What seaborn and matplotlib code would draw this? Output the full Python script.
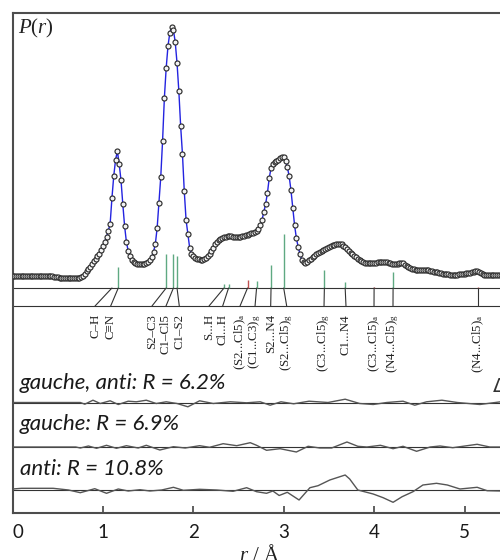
import numpy as np
import pandas as pd
import matplotlib
matplotlib.use("Agg")
import matplotlib.pyplot as plt
import seaborn as sns

# ---------------- data ----------------
# experimental radial distribution P(r) (arbitrary units), sampled every 0.02 Å from 0 to 5.40 Å
r_grid = np.round(np.linspace(0.0, 5.40, 271), 2)
P_r = [
    12, 12, 12, 12, 12, 12, 12, 12, 12, 12,                      # 0.00-0.18
    12, 12, 12, 12, 12, 12, 12, 12, 12, 12,                      # 0.20-0.38
    12, 12, 11.8, 11.5, 11, 10.6, 10.3, 10.1, 10, 10,            # 0.40-0.58
    10, 10, 10, 10, 10, 10, 10, 10.2, 10.8, 12.5,                # 0.60-0.78
    14.5, 17, 19.5, 21.5, 24.5, 27, 29.5, 32, 34.5, 38.5,        # 0.80-0.98
    42.5, 46.5, 51, 57.5, 64, 90, 112, 128, 137, 124,            # 1.00-1.18
    108, 84, 62, 46, 37, 32, 28, 26, 25, 24,                     # 1.20-1.38
    24, 24, 24, 24.5, 25, 26, 28, 31, 36, 44,                    # 1.40-1.58
    60, 85, 111, 147, 190, 220, 242, 255, 261, 258,              # 1.60-1.78
    246, 225, 197, 162, 134, 97, 68, 54, 40, 34.5,               # 1.80-1.98
    32, 30.5, 29.5, 29, 28.5, 28.5, 29, 30, 32, 34.5,            # 2.00-2.18
    37, 40.5, 44, 46, 48, 49, 50, 51, 51.5, 52,                  # 2.20-2.38
    52, 52, 51.5, 51.5, 51.5, 51.5, 51.5, 52, 52.5, 53,          # 2.40-2.58
    53.5, 54, 55, 55.5, 56.5, 57.5, 59, 63, 68, 76,              # 2.60-2.78
    84, 95, 110, 120, 124, 126, 127, 128.5, 130, 131.5,          # 2.80-2.98
    131, 127, 121, 112, 98, 80, 63, 50, 41, 34,                  # 3.00-3.18
    28, 26, 25.5, 26.5, 28, 29.5, 31, 32.5, 34, 35,              # 3.20-3.38
    36.5, 37.5, 38.5, 39.5, 40.5, 41.5, 42.2, 42.8, 43.4, 43.8,  # 3.40-3.58
    44, 44, 44, 42.5, 41, 39, 37, 35.5, 34, 32.5,                # 3.60-3.78
    31, 29.5, 28, 27, 26, 25, 25, 25, 25, 25,                    # 3.80-3.98
    25.2, 25.5, 25.8, 26, 26, 26, 26, 26, 25.5, 25,              # 4.00-4.18
    24.3, 24, 24, 24.3, 24.6, 25, 24.8, 23.5, 22.5, 21.5,        # 4.20-4.38
    20.5, 19.5, 19, 18.5, 18.2, 18, 18, 18, 18, 18,              # 4.40-4.58
    18, 17.5, 17, 16.5, 16.3, 16, 15.5, 15, 14.5, 14.2,          # 4.60-4.78
    14, 13.8, 13.5, 13.2, 13, 13, 13.3, 13.6, 13.8, 14,          # 4.80-4.98
    14.3, 14.7, 15, 15.5, 15.8, 16.3, 16.8, 17, 16.5, 15,        # 5.00-5.18
    14, 13.5, 13.2, 13, 13, 13, 13, 13, 13, 13,                  # 5.20-5.38
    13,                                                          # 5.40
]

# interatomic distances (stick positions / heights) and their labels
stick_labels = ["C–H", "C≡N", "S2–C3", "C1–Cl5", "C1–S2", "S...H", "Cl...H",
                r"(S2...Cl5)$_\mathregular{a}$", r"(C1...C3)$_\mathregular{g}$", "S2...N4",
                r"(S2...Cl5)$_\mathregular{g}$", r"(C3...Cl5)$_\mathregular{g}$", "C1...N4",
                r"(C3...Cl5)$_\mathregular{a}$", r"(N4...Cl5)$_\mathregular{g}$",
                r"(N4...Cl5)$_\mathregular{a}$"]
stick_r = [1.10, 1.17, 1.70, 1.78, 1.82, 2.34, 2.39, 2.60, 2.70, 2.86, 3.00,
           3.45, 3.68, 4.00, 4.21, 5.15]
stick_h = [0.5, 21, 34, 34, 32, 4.5, 4.5, 8, 7, 23, 54, 18, 6.5, 1, 16.5, 1]
stick_kind = ["g", "g", "g", "g", "g", "g", "g", "a", "g", "g", "g", "g", "g", "a", "g", "a"]
label_r = [0.913, 1.086, 1.543, 1.698, 1.845, 2.174, 2.325, 2.517, 2.683, 2.856,
           3.033, 3.446, 3.689, 3.999, 4.209, 5.150]

# difference curves (experiment - model)
res1_r = [0, 0.75, 0.80, 0.89, 0.97, 1.08, 1.17, 1.28, 1.37, 1.48, 1.59, 1.70, 1.82,
          1.94, 2.07, 2.22, 2.41, 2.59, 2.74, 2.85, 2.97, 3.11, 3.28, 3.49, 3.68,
          3.84, 3.99, 4.14, 4.32, 4.45, 4.58, 4.75, 4.92, 5.17, 5.40]
res1 = [0, 0, -1.7, 2.3, -1, 1.7, -2, 1.3, 0.7, 2.3, -1, 0.7, -1, -4.3, 1.7, -1, 0.7,
        -0.3, 0.7, -2.7, 0.7, -1.3, 1.3, 0, 3.3, -1, -2, 0, 1.3, -2.7, 0.7, 2.3, 0, -2, 0.7]
res2_r = [0, 0.70, 0.75, 0.84, 0.93, 1.04, 1.15, 1.26, 1.39, 1.48, 1.63, 1.78, 1.91,
          2.07, 2.18, 2.33, 2.48, 2.63, 2.70, 2.81, 2.96, 3.14, 3.27, 3.40, 3.53,
          3.70, 3.82, 3.92, 4.07, 4.21, 4.32, 4.47, 4.62, 4.73, 4.87, 5.14, 5.28, 5.40]
res2 = [0, 0, -1, 1, -1.3, 1.7, -1.3, 1.3, -1, 1.7, -3, 0.3, -1, 1.3, -0.3, 3.3, 1.3,
        4.3, 1.7, -3.3, -1.7, -5, 0.7, -1, -1, 5, 0.7, 0, 1.7, -1.7, 0.7, -4.3, 0, 1,
        -0.7, 2.7, 0, 0]
res3_r = [0, 0.10, 0.45, 0.62, 0.75, 0.91, 1.04, 1.17, 1.28, 1.41, 1.52, 1.65, 1.78,
          1.89, 2.07, 2.26, 2.44, 2.59, 2.70, 2.81, 2.88, 2.95, 3.04, 3.17, 3.29,
          3.38, 3.51, 3.68, 3.73, 3.82, 3.99, 4.10, 4.21, 4.31, 4.43, 4.54, 4.69,
          4.81, 4.95, 5.14, 5.25, 5.40]
res3 = [1, 1.7, 1.7, 0, -2.7, 1.3, -3.3, 1, -1, 0.3, -1, 0, 2.7, -0.3, 0.7, 0, -1.3,
        2.3, -1.7, -3.3, -1, -5.5, -2.3, -10, 2.3, 4.3, 10, 15, 11, 0, -4, -7.7,
        -12.3, -6.7, -1.7, 5, 6.7, 5, 1, 2.7, -0.7, -1]
res_titles = ["gauche, anti: R = 6.2%", "gauche: R = 6.9%", "anti: R = 10.8%"]
x_ticks = [0, 1, 2, 3, 4, 5]

# ---------------- layout (pixel based) ----------------
W, H = 500, 560
PX_PER_A = 90.4
X0 = 12.5
STICK_BASE = 272      # y of upper stick baseline (from bottom)
LABEL_BASE = 254      # y of lower line (label side)
RES_BASE = [157.5, 113, 70]

sns.set_theme(style="white")
plt.rcParams["mathtext.fontset"] = "custom"
plt.rcParams["mathtext.rm"] = "Liberation Serif"
plt.rcParams["mathtext.it"] = "Liberation Serif:italic"

fig = plt.figure(figsize=(W / 100, H / 100), dpi=100)
ax = fig.add_axes([X0 / W, 47 / H, 5.6 * PX_PER_A / W, 500 / H])
ax.set_xlim(0, 5.6)
ax.set_ylim(47, 547)

df = pd.DataFrame({"r": r_grid, "P": np.array(P_r, dtype=float)})
df["y"] = df["P"] + STICK_BASE

# horizontal reference lines
for yy in [STICK_BASE, LABEL_BASE] + RES_BASE:
    ax.axhline(yy, color="#333333", lw=0.8, zorder=1)

# model line and experimental points
sns.lineplot(data=df, x="r", y="y", ax=ax, color="#2323e0", lw=1.0, zorder=3,
             sort=False, estimator=None)
sns.scatterplot(data=df, x="r", y="y", ax=ax, marker="o", s=13, facecolor="#f4f4f4",
                edgecolor="#2e2e2e", linewidth=0.85, zorder=4)

# sticks, connectors and labels
for lab, rs, hs, kind, rl in zip(stick_labels, stick_r, stick_h, stick_kind, label_r):
    col = "#c05050" if kind == "a" else "#5fa982"
    ax.vlines(rs, STICK_BASE, STICK_BASE + hs, color=col, lw=1.0, zorder=2)
    ax.plot([rs, rl], [STICK_BASE, LABEL_BASE], color="#333333", lw=0.8, zorder=2)
    ax.text(rl, LABEL_BASE - 8, lab, rotation=90, ha="center", va="top",
            fontsize=9.3, family=["Liberation Serif", "DejaVu Serif"], color="#222222")

# residual curves
for rr, vv, base in [(res1_r, res1, RES_BASE[0]), (res2_r, res2, RES_BASE[1]),
                     (res3_r, res3, RES_BASE[2])]:
    d = pd.DataFrame({"r": rr, "v": np.array(vv, dtype=float) + base})
    sns.lineplot(data=d, x="r", y="v", ax=ax, color="#555555", lw=1.0, zorder=3,
                 sort=False, estimator=None)

# residual titles
for t, yb in zip(res_titles, [389, 430, 475]):
    fig.text(20 / W, 1 - yb / H, t, fontsize=16, style="italic", family="Lato",
             color="#1a1a1a", va="baseline", ha="left")
fig.text(493 / W, 1 - 392 / H, "Δ", fontsize=14, family="DejaVu Sans",
         color="#333333", va="baseline", ha="left")

# P(r) label and x label
fig.text(18 / W, 1 - 28 / H, r"$P(r)$", fontsize=15, va="center", ha="left",
         color="#222222")
fig.text(260 / W, 1 - 561 / H, r"$r$ / Å", fontsize=15, va="baseline", ha="center",
         family="Liberation Serif", color="#222222")

# axes styling
ax.set_xticks(x_ticks)
ax.set_xticklabels([str(v) for v in x_ticks], family="Lato", fontsize=13.5,
                   color="#1a1a1a")
ax.get_xticklabels()[0].set_ha("left")
ax.set_yticks([])
ax.set_xlabel("")
ax.set_ylabel("")
ax.tick_params(axis="x", direction="in", length=5, width=1.2, color="#444444",
               pad=8, bottom=True)
for s in ["left", "top", "bottom"]:
    ax.spines[s].set_visible(True)
    ax.spines[s].set_color("#4d4d4d")
    ax.spines[s].set_linewidth(1.5)
ax.spines["right"].set_visible(False)

fig.savefig("out.png", dpi=100)
